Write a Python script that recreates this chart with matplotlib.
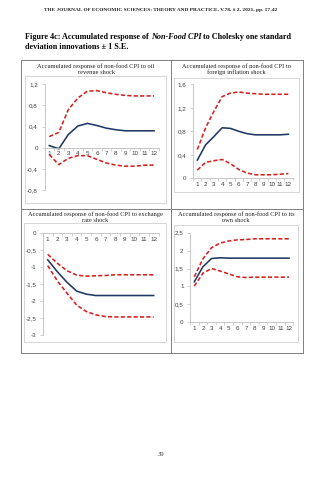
import numpy as np
import matplotlib
matplotlib.use('Agg')
import matplotlib.pyplot as plt
from matplotlib.patches import Rectangle

W, H = 335, 480

periods = list(range(1, 13))

# Chart 1: oil revenue shock
oil_mid = [0.04, -0.02, 0.25, 0.41, 0.46, 0.42, 0.37, 0.34, 0.32, 0.32, 0.32, 0.32]
oil_hi = [0.21, 0.29, 0.72, 0.94, 1.07, 1.08, 1.04, 1.01, 0.99, 0.98, 0.98, 0.98]
oil_lo = [-0.13, -0.32, -0.20, -0.15, -0.15, -0.22, -0.29, -0.33, -0.35, -0.35, -0.33, -0.33]

# Chart 2: foreign inflation shock
fi_mid = [0.31, 0.57, 0.71, 0.86, 0.85, 0.80, 0.76, 0.74, 0.74, 0.74, 0.74, 0.75]
fi_hi = [0.49, 0.86, 1.14, 1.39, 1.45, 1.47, 1.45, 1.44, 1.43, 1.43, 1.43, 1.43]
fi_lo = [0.14, 0.27, 0.30, 0.32, 0.25, 0.15, 0.09, 0.06, 0.06, 0.06, 0.07, 0.08]

# Chart 3: exchange rate shock
er_mid = [-0.78, -1.13, -1.44, -1.70, -1.79, -1.83, -1.83, -1.83, -1.83, -1.83, -1.83, -1.83]
er_hi = [-0.62, -0.88, -1.10, -1.23, -1.26, -1.25, -1.24, -1.22, -1.22, -1.22, -1.22, -1.22]
er_lo = [-0.95, -1.40, -1.76, -2.11, -2.30, -2.40, -2.45, -2.46, -2.46, -2.46, -2.46, -2.46]

# Chart 4: own shock
own_mid = [1.13, 1.55, 1.78, 1.80, 1.79, 1.79, 1.79, 1.79, 1.79, 1.79, 1.79, 1.79]
own_hi = [1.27, 1.77, 2.08, 2.21, 2.27, 2.30, 2.31, 2.33, 2.33, 2.33, 2.33, 2.33]
own_lo = [1.01, 1.37, 1.50, 1.43, 1.35, 1.27, 1.25, 1.26, 1.26, 1.26, 1.26, 1.26]

titles = [
    'Accumulated response of non-food CPI to oil\nrevenue shock',
    'Accumulated response of non-food CPI to\nforeign inflation shock',
    'Accumulated response of non-food CPI to exchange\nrate shock',
    'Accumulated response of non-food CPI to its\nown shock',
]
yticks_1 = [-0.8, -0.4, 0, 0.4, 0.8, 1.2]
yticks_2 = [0, 0.4, 0.8, 1.2, 1.6]
yticks_3 = [-3, -2.5, -2, -1.5, -1, -0.5, 0]
yticks_4 = [0, 0.5, 1, 1.5, 2, 2.5]

header = 'THE JOURNAL OF ECONOMIC SCIENCES: THEORY AND PRACTICE, V.78, # 2, 2021, pp. 17-42'

NAVY = '#1f3864'
RED = '#d42020'
GRID = '#bfbfbf'
LABEL = '#404040'
SERIF = 'Liberation Serif'
SANS = 'Liberation Sans'

fig = plt.figure(figsize=(W / 100, H / 100), dpi=100)
fig.patch.set_facecolor('white')

# page overlay in pixel coordinates
page = fig.add_axes([0, 0, 1, 1])
page.set_xlim(0, W)
page.set_ylim(H, 0)
page.axis('off')
page.set_zorder(0)

page.text(161, 10, header, family=SERIF, fontweight='bold', fontsize=3.9,
          ha='center', va='center', color='#222222')

# caption with an italic piece
fig.canvas.draw()
renderer = fig.canvas.get_renderer()
pieces = [('Figure 4c: Accumulated response of ', 'normal'), ('Non-Food CPI', 'italic'),
          (' to Cholesky one standard', 'normal')]
x = 25
for txt, style in pieces:
    t = page.text(x, 37, txt, family=SERIF, fontweight='bold', fontstyle=style,
                  fontsize=5.85, ha='left', va='center', color='black')
    bb = t.get_window_extent(renderer)
    x += bb.width
page.text(25, 47, 'deviation innovations \u00b1 1 S.E.', family=SERIF, fontweight='bold',
          fontsize=5.85, ha='left', va='center', color='black')

# table borders
tcol = '#7f7f7f'
for xx in (21, 171, 303):
    page.plot([xx, xx], [60, 353], color=tcol, lw=0.7)
for yy in (60, 209, 353):
    page.plot([21, 303], [yy, yy], color=tcol, lw=0.7)

# light chart frames
for (l, t, r, b) in [(25, 76, 166, 203), (174, 78, 299, 192), (24, 223, 166, 342), (174, 225, 298, 342)]:
    page.add_patch(Rectangle((l, t), r - l, b - t, fill=False, ec='#d0d0d0', lw=0.6))

# chart titles
for (cx, cy), title in zip([(96, 69), (236, 69), (95, 217), (236, 217)], titles):
    page.text(cx, cy, title, family=SERIF, fontsize=4.6, ha='center', va='center',
              color='#222222', linespacing=1.15)

page.text(161, 455, '39', family=SERIF, fontsize=4.8, ha='center', va='center', color='#333333')


def fmt(v):
    s = ('%g' % v).replace('.', ',')
    return s


def chart(box, mid, hi, lo, yticks):
    l, t, r, b = box
    ax = fig.add_axes([l / W, 1 - b / H, (r - l) / W, (b - t) / H])
    ax.set_zorder(2)
    ax.patch.set_alpha(0)
    ax.plot(periods, hi, color=RED, lw=1.15, dashes=(2.6, 1.4))
    ax.plot(periods, lo, color=RED, lw=1.15, dashes=(2.6, 1.4))
    ax.plot(periods, mid, color=NAVY, lw=1.15)
    ax.set_xlim(0.5, 12.5)
    ax.set_ylim(min(yticks), max(yticks))
    for s in ('top', 'right'):
        ax.spines[s].set_visible(False)
    ax.spines['left'].set_color(GRID)
    ax.spines['left'].set_linewidth(0.6)
    ax.spines['bottom'].set_color(GRID)
    ax.spines['bottom'].set_linewidth(0.6)
    ax.spines['bottom'].set_position(('data', 0))
    ax.set_yticks(yticks)
    ax.set_yticklabels([fmt(v) for v in yticks])
    ax.tick_params(axis='y', length=2.2, width=0.5, color=GRID, pad=2.5,
                   labelsize=4.5, labelcolor=LABEL)
    ax.set_xticks(np.arange(0.5, 13, 1))
    ax.set_xticklabels([])
    ax.set_xticks(periods, minor=True)
    ax.set_xticklabels([str(p) for p in periods], minor=True)
    ax.tick_params(axis='x', which='major', length=2.0, width=0.5, color=GRID)
    ax.tick_params(axis='x', which='minor', length=0, pad=2.5, labelsize=4.5, labelcolor=LABEL)
    for lab in ax.get_xticklabels(minor=True) + ax.get_yticklabels():
        lab.set_family(SANS)
    return ax


chart((44.5, 84.3, 158.8, 190.0), oil_mid, oil_hi, oil_lo, yticks_1)
chart((193.2, 84.3, 292.5, 178.3), fi_mid, fi_hi, fi_lo, yticks_2)
chart((42.9, 233.3, 158.5, 335.3), er_mid, er_hi, er_lo, yticks_3)
chart((190.0, 232.7, 293.3, 322.3), own_mid, own_hi, own_lo, yticks_4)

fig.savefig('out.png', dpi=100, facecolor='white')
